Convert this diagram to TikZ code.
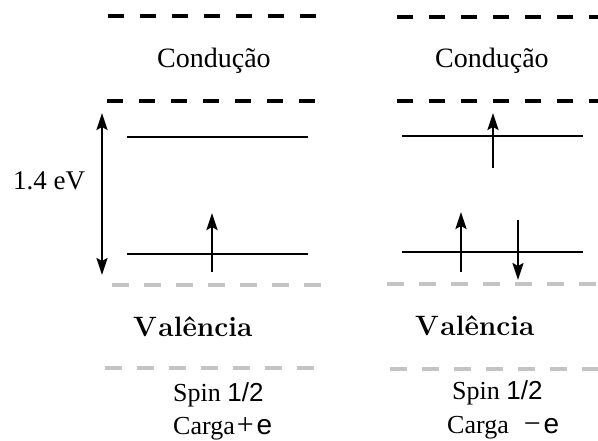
\documentclass[tikz,border=0pt]{standalone}
\usepackage{fontspec}
\usetikzlibrary{arrows.meta}
\newfontfamily\tms{Liberation Serif}
\newfontfamily\lsans{Liberation Sans}
\definecolor{gband}{HTML}{C4C4C4}
\begin{document}
\begin{tikzpicture}[x=1pt,y=-1pt,
  bdash/.style={line width=4.5pt, dash pattern=on 16pt off 16pt},
  gdash/.style={line width=4pt, draw=gband, dash pattern=on 17pt off 15pt},
  level/.style={line width=2.4pt},
  tip/.style={},
  spinarrow/.style={line width=2.2pt, -{Stealth[length=17pt,width=11pt,inset=3pt]}},
  gaparrow/.style={line width=2.2pt, {Stealth[length=17pt,width=11pt,inset=3pt]}-{Stealth[length=17pt,width=11pt,inset=3pt]}},
  lbl/.style={inner sep=0pt, anchor=base west},
  big/.style={font=\tms\fontsize{28}{30}\selectfont},
  mid/.style={font=\tms\fontsize{26}{28}\selectfont},
  bold/.style={font=\bfseries\fontsize{28}{30}\selectfont},
]
\useasboundingbox (0,0) rectangle (598,440);

% left panel bands
\coordinate (lt1) at (108,16);  \coordinate (lt2) at (330,16);
\coordinate (lb1) at (107,101); \coordinate (lb2) at (330,101);
\coordinate (lg1) at (112,285); \coordinate (lg2) at (330,285);
\coordinate (lh1) at (105,368); \coordinate (lh2) at (325,368);
\draw[bdash] (lt1) -- (lt2);
\draw[bdash] (lb1) -- (lb2);
\draw[gdash] (lg1) -- (lg2);
\draw[gdash] (lh1) -- (lh2);

% right panel bands
\coordinate (rt1) at (397,17);  \coordinate (rt2) at (610,17);
\coordinate (rb1) at (397,101); \coordinate (rb2) at (610,101);
\coordinate (rg1) at (387,284); \coordinate (rg2) at (610,284);
\coordinate (rh1) at (390,369); \coordinate (rh2) at (610,369);
\draw[bdash] (rt1) -- (rt2);
\draw[bdash] (rb1) -- (rb2);
\draw[gdash] (rg1) -- (rg2);
\draw[gdash] (rh1) -- (rh2);

% levels
\coordinate (lu1) at (127,137); \coordinate (lu2) at (308,137);
\coordinate (ld1) at (127,254); \coordinate (ld2) at (308,254);
\coordinate (ru1) at (402,136); \coordinate (ru2) at (583,136);
\coordinate (rd1) at (402,252); \coordinate (rd2) at (583,252);
\draw[level] (lu1) -- (lu2);
\draw[level] (ld1) -- (ld2);
\draw[level] (ru1) -- (ru2);
\draw[level] (rd1) -- (rd2);

% arrows
\coordinate (g1) at (102,275); \coordinate (g2) at (102,113);
\draw[gaparrow] (g1) -- (g2);
\coordinate (la1) at (212,272); \coordinate (la2) at (212,213);
\draw[spinarrow] (la1) -- (la2);
\coordinate (ra1) at (493,168); \coordinate (ra2) at (493,113);
\draw[spinarrow] (ra1) -- (ra2);
\coordinate (rb3) at (461,272); \coordinate (rb4) at (461,212);
\draw[spinarrow] (rb3) -- (rb4);
\coordinate (rc1) at (518,220); \coordinate (rc2) at (518,280);
\draw[spinarrow] (rc1) -- (rc2);

% labels
\node[lbl,big] (condL) at (157,67) {Condução};
\node[lbl,big] (condR) at (435,67) {Condução};
\node[lbl,font=\tms\fontsize{27}{29}\selectfont] (gap) at (13,189) {1.4 eV};
\node[lbl,bold] (valL) at (133,336) {V\kern1.5pt alência};
\node[lbl,bold] (valR) at (415,335) {V\kern1.5pt alência};
\node[lbl,mid] (spinL) at (173,401) {Spin {\lsans 1/2}};
\node[lbl,mid] (cargaL) at (173,434) {Carga\kern2pt{\fontsize{30}{30}\selectfont+}\kern3pt{\lsans\fontsize{28}{30}\selectfont e}};
\node[lbl,mid] (spinR) at (452,399) {Spin {\lsans 1/2}};
\node[lbl,mid] (cargaR) at (447,433) {Carga\kern15pt{\fontsize{30}{30}\selectfont −}\kern3pt{\lsans\fontsize{28}{30}\selectfont e}};
\end{tikzpicture}
\end{document}
